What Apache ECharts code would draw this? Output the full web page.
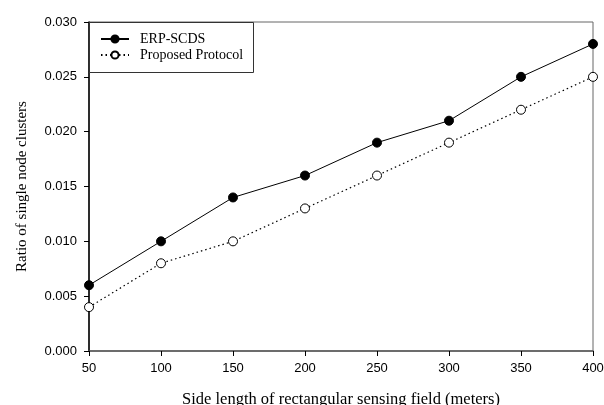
<!DOCTYPE html>
<html>
<head>
<meta charset="utf-8">
<script src="https://cdn.jsdelivr.net/npm/echarts@6/dist/echarts.min.js"></script>
<style>html,body{margin:0;padding:0;background:#fff}#c{width:604px;height:405px}</style>
</head>
<body>
<div id="c"></div>
<script>
const sideLengths = [50, 100, 150, 200, 250, 300, 350, 400];
const erpScds = [0.006, 0.010, 0.014, 0.016, 0.019, 0.021, 0.025, 0.028];
const proposed = [0.004, 0.008, 0.010, 0.013, 0.016, 0.019, 0.022, 0.025];
const seriesNames = ['ERP-SCDS', 'Proposed Protocol'];
const xTitle = 'Side length of rectangular sensing field (meters)';
const yTitle = 'Ratio of single node clusters';

const chart = echarts.init(document.getElementById('c'), null, {renderer: 'canvas'});
const pair = (xs, ys) => xs.map((x, i) => [x, ys[i]]);
chart.setOption({
  animation: false,
  backgroundColor: '#fff',
  grid: {left: 89, right: 11, top: 22, bottom: 54, outerBoundsMode: 'none', containLabel: false,
    show: true, borderColor: '#666', borderWidth: 1},
  graphic: [{
    type: 'rect', left: 89, top: 22, z: 5,
    shape: {width: 164, height: 50},
    style: {fill: '#fff', stroke: '#333', lineWidth: 1}
  }],
  legend: {
    orient: 'vertical', left: 89, top: 22, z: 10,
    padding: [10, 4, 6, 11],
    itemWidth: 28, itemHeight: 9, itemGap: 2,
    textStyle: {fontFamily: 'Liberation Serif', fontSize: 14, color: '#000', padding: [0, 0, 0, 6]},
    data: seriesNames
  },
  xAxis: {
    type: 'value', min: 50, max: 400, interval: 50,
    name: xTitle, nameLocation: 'middle', nameGap: 40,
    nameTextStyle: {fontFamily: 'Liberation Serif', fontSize: 16.5, color: '#000'},
    axisLine: {lineStyle: {color: '#555', width: 1.5}},
    axisTick: {show: true, length: 5, lineStyle: {color: '#000'}},
    axisLabel: {fontFamily: 'Liberation Sans', fontSize: 13, color: '#000', margin: 11},
    splitLine: {show: false}
  },
  yAxis: {
    type: 'value', min: 0, max: 0.03, interval: 0.005,
    name: yTitle, nameLocation: 'middle', nameGap: 59, nameRotate: 90,
    nameTextStyle: {fontFamily: 'Liberation Serif', fontSize: 15, color: '#000'},
    axisLine: {show: true, lineStyle: {color: '#000', width: 1.5}},
    axisTick: {show: true, length: 5, lineStyle: {color: '#000'}},
    axisLabel: {fontFamily: 'Liberation Sans', fontSize: 13, color: '#000', margin: 12,
      formatter: v => v.toFixed(3)},
    splitLine: {show: false}
  },
  series: [
    {
      name: seriesNames[0], type: 'line', data: pair(sideLengths, erpScds),
      symbol: 'circle', symbolSize: 9,
      lineStyle: {color: '#000', width: 1, type: 'solid'},
      itemStyle: {color: '#000', borderColor: '#000', borderWidth: 1}
    },
    {
      name: seriesNames[1], type: 'line', data: pair(sideLengths, proposed),
      symbol: 'circle', symbolSize: 9,
      lineStyle: {color: '#000', width: 1.2, type: [1.5, 3]},
      itemStyle: {color: '#fff', borderColor: '#000', borderWidth: 1}
    }
  ]
});
</script>
</body>
</html>
